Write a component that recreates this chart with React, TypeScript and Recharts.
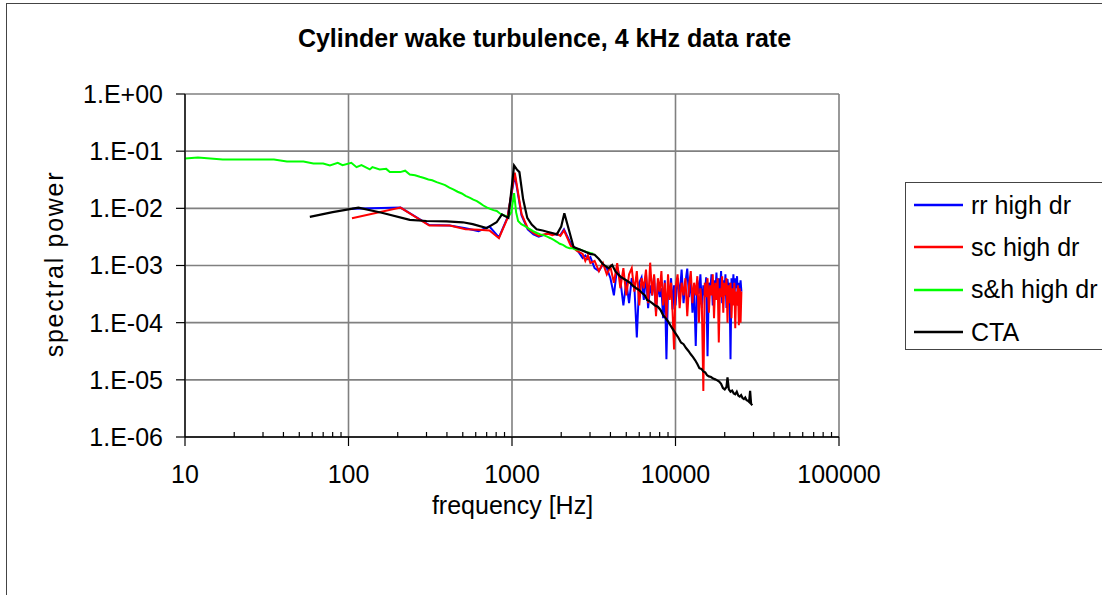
import React from "react";
import { LineChart, Line, XAxis, YAxis, CartesianGrid, Legend } from "recharts";

const FONT = '"Liberation Sans", Arial, Helvetica, sans-serif';

// axis ticks
const X_MAJOR = [10, 100, 1000, 10000, 100000];
const X_MINOR = [
  20, 30, 40, 50, 60, 70, 80, 90,
  200, 300, 400, 500, 600, 700, 800, 900,
  2000, 3000, 4000, 5000, 6000, 7000, 8000, 9000,
  20000, 30000, 40000, 50000, 60000, 70000, 80000, 90000,
];
const Y_TICKS = [1e-6, 1e-5, 1e-4, 1e-3, 1e-2, 1e-1, 1];
const SERIES_NAMES = ["rr high dr", "sc high dr", "s&h high dr", "CTA"];

// rr / sc high dr share the same frequency bins
const DR_FREQ = [
  105, 208, 312, 416, 520, 624, 728, 832, 936, 1040,
  1144, 1248, 1352, 1456, 1560, 1664, 1768, 1872, 1976, 2080,
  2184, 2288, 2392, 2496, 2600, 2704, 2808, 2912, 3016,
  3200, 3400, 3600, 3800, 4000, 4200, 4400, 4600, 4800, 5000,
  5200, 5400, 5600, 5800, 6000, 6200, 6400, 6600, 6800, 7000,
  7200, 7400, 7600, 7800, 8000, 8200, 8400, 8600, 8800, 9000,
  9200, 9400, 9600, 9800, 10000,
  10300, 10600, 10900, 11200, 11500, 11800, 12100, 12400, 12700, 13000,
  13300, 13600, 13900, 14200, 14500, 14800, 15100, 15400, 15700, 16000,
  16300, 16600, 16900, 17200, 17500, 17800, 18100, 18400, 18700, 19000,
  19300, 19600, 19900, 20200, 20500, 20800, 21100, 21400, 21700, 22000,
  22300, 22600, 22900, 23200, 23500, 23800, 24100, 24400, 24700, 25000,
  25300,
];

const RR_POWER = [
  0.0098, 0.0103, 0.0051, 0.005, 0.0045, 0.004, 0.0048, 0.0031, 0.0068, 0.038,
  0.0075, 0.0043, 0.0035, 0.0032, 0.0034, 0.0037, 0.0036, 0.0035, 0.0034, 0.0043,
  0.0032, 0.0024, 0.0021, 0.0019, 0.0016, 0.00135, 0.0015, 0.0013, 0.0014,
  0.0009, 0.0008, 0.00105, 0.0009, 0.0006, 0.0003, 0.00095, 0.00055, 0.0002, 0.00052,
  0.00022, 0.0006, 0.00045, 0.000055, 0.0005, 0.00062, 0.00025, 0.0007, 0.00018, 0.00045,
  0.0003, 0.00065, 0.00015, 0.0005, 0.00028, 0.0004, 0.00012, 0.00055, 0.000023, 0.0004,
  0.0003, 0.0006, 0.00017, 0.00045, 0.0002,
  0.0006, 0.0003, 0.00085, 0.00022, 0.0005, 0.00088, 0.00028, 0.0006, 0.00015, 0.0004,
  0.000039, 0.00055, 0.00032, 0.0007, 0.00018, 0.00045, 0.0003, 0.00062, 0.000026, 0.0005,
  0.00035, 0.0007, 0.0002, 0.00055, 0.0003, 0.00075, 0.00025, 0.0006, 0.00035, 0.0008,
  0.00022, 0.00055, 0.0003, 0.0007, 0.00018, 0.00058, 0.00035, 0.0005, 0.000023, 0.0006,
  0.0003, 0.0007, 0.00025, 0.0006, 0.0004, 0.00065, 0.0002, 0.0005, 0.0003, 0.00055,
  0.00035,
];

const SC_POWER = [
  0.0067, 0.0103, 0.005, 0.005, 0.0043, 0.0042, 0.0041, 0.003, 0.0066, 0.042,
  0.008, 0.0045, 0.0037, 0.0033, 0.0035, 0.0036, 0.0034, 0.0036, 0.0033, 0.0041,
  0.003, 0.0022, 0.002, 0.0018, 0.0017, 0.0016, 0.0012, 0.0015, 0.0011,
  0.0012, 0.0008, 0.0011, 0.0007, 0.00095, 0.0005, 0.0011, 0.0004, 0.0009, 0.0003,
  0.0007, 0.0009, 0.00035, 0.0008, 0.0002, 0.0006, 0.0004, 0.00085, 0.00022, 0.00112,
  0.0003, 0.0007, 0.00013, 0.0006, 0.00035, 0.0008, 0.0002, 0.0005, 0.00012, 0.0007,
  0.00025, 0.0005, 0.00015, 0.000034, 0.0004,
  0.0007, 0.00018, 0.0005, 0.0003, 0.0006, 0.00013, 0.00045, 0.0008, 0.00022, 0.0005,
  0.0003, 0.00065, 0.0001, 0.0004, 0.0002, 0.0000064, 0.0005, 0.00028, 0.0006, 0.00015,
  0.00045, 0.0003, 0.0007, 0.00012, 0.0005, 0.00025, 0.0006, 0.000045, 0.0004, 0.00028,
  0.00065, 0.00015, 0.0005, 0.0003, 0.0006, 0.0001, 0.00045, 0.00022, 0.0005, 0.00012,
  0.0004, 0.0002, 0.0005, 0.00008, 0.00035, 0.0002, 0.00045, 0.00009, 0.0004, 0.0001,
  0.00035,
];

// s&h high dr
const SH_FREQ = [
  10, 12, 17, 25, 35, 42, 53, 61, 70, 77,
  86, 92, 104, 112, 120, 135, 140, 155, 170, 179,
  207, 222, 237, 255, 273, 290, 308, 325, 346, 368,
  390, 414, 437, 465, 493, 520, 554, 580, 610, 640,
  668, 700, 735, 770, 807, 840, 868, 910, 950, 990,
  1030, 1060, 1090, 1140, 1200, 1270, 1345, 1420, 1490, 1560,
  1640, 1720, 1800, 1880, 1960, 2050, 2150, 2250, 2350, 2450,
  2600, 2750, 2900, 3000, 3140,
];
const SH_POWER = [
  0.0745, 0.0776, 0.0716, 0.0716, 0.0716, 0.066, 0.066, 0.061, 0.061, 0.056,
  0.0627, 0.057, 0.0627, 0.0525, 0.057, 0.048, 0.0525, 0.048, 0.049, 0.043,
  0.043, 0.0455, 0.039, 0.038, 0.0357, 0.034, 0.032, 0.031, 0.0288, 0.027,
  0.0255, 0.023, 0.0214, 0.0195, 0.0182, 0.0165, 0.0153, 0.0142, 0.0134, 0.0122,
  0.0112, 0.0104, 0.0098, 0.0093, 0.009, 0.0082, 0.0078, 0.0074, 0.0071, 0.0085,
  0.0185, 0.0085, 0.006, 0.0053, 0.0049, 0.0044, 0.004, 0.0037, 0.0035, 0.0034,
  0.0032, 0.003, 0.0028, 0.0026, 0.0024, 0.0023, 0.0021, 0.002, 0.002, 0.0019,
  0.0019, 0.0018, 0.0017, 0.00166, 0.0016,
];

// CTA reference
const CTA_FREQ = [
  58, 80, 115, 162, 237, 300, 398, 500, 575, 700,
  805, 868, 905, 950, 1030, 1070, 1110, 1170, 1240, 1320,
  1415, 1540, 1640, 1760, 1880, 2000, 2090, 2200, 2380, 2600,
  2850, 3000, 3200, 3400, 3600, 3900, 4100, 4300, 4600, 4850,
  5100, 5300, 5500, 5750, 6000, 6250, 6500, 6700, 6900, 7200,
  7500, 7800, 8100, 8400, 8700, 9000, 9300, 9600, 10000, 10400,
  10800, 11200, 11600, 12000, 12400, 12800, 13200, 13600, 14000, 14400,
  14800, 15200, 15600, 16000, 16500, 17000, 17500, 18000, 18500, 19000,
  19500, 20000, 20500, 20800, 21200, 21700, 22200, 22700, 23200, 23700,
  24200, 24700, 25200, 25700, 26200, 26700, 27200, 27700, 28200, 28600,
  29000, 29500,
];
const CTA_POWER = [
  0.0071, 0.0086, 0.0103, 0.0083, 0.0063, 0.006, 0.0059, 0.0057, 0.0053, 0.0045,
  0.0057, 0.0078, 0.0073, 0.0068, 0.056, 0.048, 0.043, 0.0144, 0.0068, 0.0052,
  0.0043, 0.0041, 0.0039, 0.0037, 0.0035, 0.0048, 0.0082, 0.0048, 0.0021, 0.0019,
  0.0017, 0.0016, 0.00154, 0.0013, 0.00105, 0.0009, 0.00102, 0.00078, 0.00064, 0.00058,
  0.00053, 0.00049, 0.00044, 0.0004, 0.00037, 0.00033, 0.0003, 0.00025, 0.00024, 0.00022,
  0.0002, 0.00019, 0.000167, 0.000135, 0.00012, 0.000105, 0.00009, 0.000078, 0.000065, 0.000055,
  0.000045, 0.000042, 0.000036, 0.000032, 0.000028, 0.000025, 0.000022, 0.000019, 0.000016, 0.0000155,
  0.000014, 0.0000135, 0.000012, 0.0000115, 0.0000112, 0.0000105, 0.0000102, 0.0000098, 0.0000093, 0.0000085,
  0.0000072, 0.0000068, 0.0000075, 0.000011, 0.0000068, 0.0000062, 0.0000065, 0.0000058, 0.0000056, 0.0000062,
  0.0000053, 0.0000051, 0.0000054, 0.0000048, 0.0000046, 0.0000049, 0.0000044, 0.0000043, 0.0000041, 0.0000064,
  0.0000038, 0.0000036,
];

const toPoints = (freq: number[], power: number[]) =>
  freq.map((f, i) => ({ f, p: power[i] }));

const rrData = toPoints(DR_FREQ, RR_POWER);
const scData = toPoints(DR_FREQ, SC_POWER);
const shData = toPoints(SH_FREQ, SH_POWER);
const ctaData = toPoints(CTA_FREQ, CTA_POWER);

const sciLabel = (v: number) => {
  const e = Math.round(Math.log10(v));
  const s = String(Math.abs(e)).padStart(2, "0");
  return "1.E" + (e < 0 ? "-" : "+") + s;
};

// x ticks: majors get a downward tick + label, minors a small inward tick
const XTick = (props: any) => {
  const { x, y, payload } = props;
  const major = X_MAJOR.includes(payload.value);
  if (!major) {
    return <line x1={x} x2={x} y1={y} y2={y - 5} stroke="#000" strokeWidth={1.2} />;
  }
  return (
    <g>
      <line x1={x} x2={x} y1={y} y2={y + 9} stroke="#000" strokeWidth={1.2} />
      <text x={x} y={y + 46} textAnchor="middle" fontSize={25} fontFamily={FONT} fill="#000">
        {payload.value}
      </text>
    </g>
  );
};

const LegendBox = (props: any) => {
  const items = [...(props.payload || [])].sort(
    (a: any, b: any) => SERIES_NAMES.indexOf(a.value) - SERIES_NAMES.indexOf(b.value)
  );
  return (
    <div
      style={{
        width: 200,
        height: 168,
        boxSizing: "border-box",
        border: "1.5px solid #444",
        background: "#fff",
        paddingTop: 1,
        fontFamily: FONT,
        fontSize: 25,
      }}
    >
      {items.map((e: any) => (
        <div key={e.value} style={{ display: "flex", alignItems: "center", height: 42.3 }}>
          <svg width={65} height={10} style={{ flex: "none" }}>
            <line x1={8} x2={57} y1={5} y2={5} stroke={e.color} strokeWidth={2.5} />
          </svg>
          <span style={{ whiteSpace: "nowrap", color: "#000" }}>{e.value}</span>
        </div>
      ))}
    </div>
  );
};

export default function App() {
  return (
    <div
      style={{
        position: "absolute",
        left: 0,
        top: 0,
        width: 1102,
        height: 595,
        overflow: "hidden",
        background: "#fff",
      }}
    >
      <div
        style={{
          position: "absolute",
          left: 6,
          top: 3,
          width: 1200,
          height: 700,
          border: "1.5px solid #444",
        }}
      />
      <LineChart
        width={1102}
        height={595}
        margin={{ top: 94, right: 263, bottom: 98, left: 85 }}
        style={{ position: "absolute", left: 0, top: 0 }}
      >
        <CartesianGrid
          stroke="#808080"
          strokeWidth={1.6}
          verticalValues={X_MAJOR}
          horizontalValues={Y_TICKS}
        />
        <XAxis
          dataKey="f"
          type="number"
          scale="log"
          domain={[10, 100000]}
          ticks={[...X_MAJOR, ...X_MINOR].sort((a, b) => a - b)}
          interval={0}
          height={60}
          tickSize={0}
          tickMargin={0}
          tickLine={false}
          axisLine={{ stroke: "#000", strokeWidth: 1.3 }}
          tick={<XTick />}
          allowDataOverflow
        />
        <YAxis
          type="number"
          scale="log"
          domain={[1e-6, 1]}
          ticks={Y_TICKS}
          interval={0}
          width={100}
          tickSize={9}
          tickMargin={13}
          tickLine={{ stroke: "#000", strokeWidth: 1.2 }}
          axisLine={{ stroke: "#000", strokeWidth: 1.3 }}
          tickFormatter={sciLabel}
          tick={{ fontSize: 25, fontFamily: FONT, fill: "#000" }}
          allowDataOverflow
        />
        <Legend
          layout="horizontal"
          verticalAlign="middle"
          align="center"
          content={<LegendBox />}
          wrapperStyle={{ left: 905, top: 182, width: 200, height: 168 }}
        />
        <Line data={rrData} dataKey="p" name={SERIES_NAMES[0]} stroke="#0000ff" strokeWidth={2} dot={false} isAnimationActive={false} />
        <Line data={scData} dataKey="p" name={SERIES_NAMES[1]} stroke="#ff0000" strokeWidth={2} dot={false} isAnimationActive={false} />
        <Line data={shData} dataKey="p" name={SERIES_NAMES[2]} stroke="#00ff00" strokeWidth={2} dot={false} isAnimationActive={false} />
        <Line data={ctaData} dataKey="p" name={SERIES_NAMES[3]} stroke="#000000" strokeWidth={2.2} dot={false} isAnimationActive={false} />
        <text x={544.5} y={47} textAnchor="middle" fontSize={25} fontWeight="bold" fontFamily={FONT} fill="#000">
          Cylinder wake turbulence, 4 kHz data rate
        </text>
        <text x={512.5} y={514} textAnchor="middle" fontSize={25} fontFamily={FONT} fill="#000">
          frequency [Hz]
        </text>
        <text
          transform="translate(62.5,264) rotate(-90)"
          textAnchor="middle"
          fontSize={25}
          letterSpacing={1.7}
          fontFamily={FONT}
          fill="#000"
        >
          spectral power
        </text>
      </LineChart>
    </div>
  );
}
